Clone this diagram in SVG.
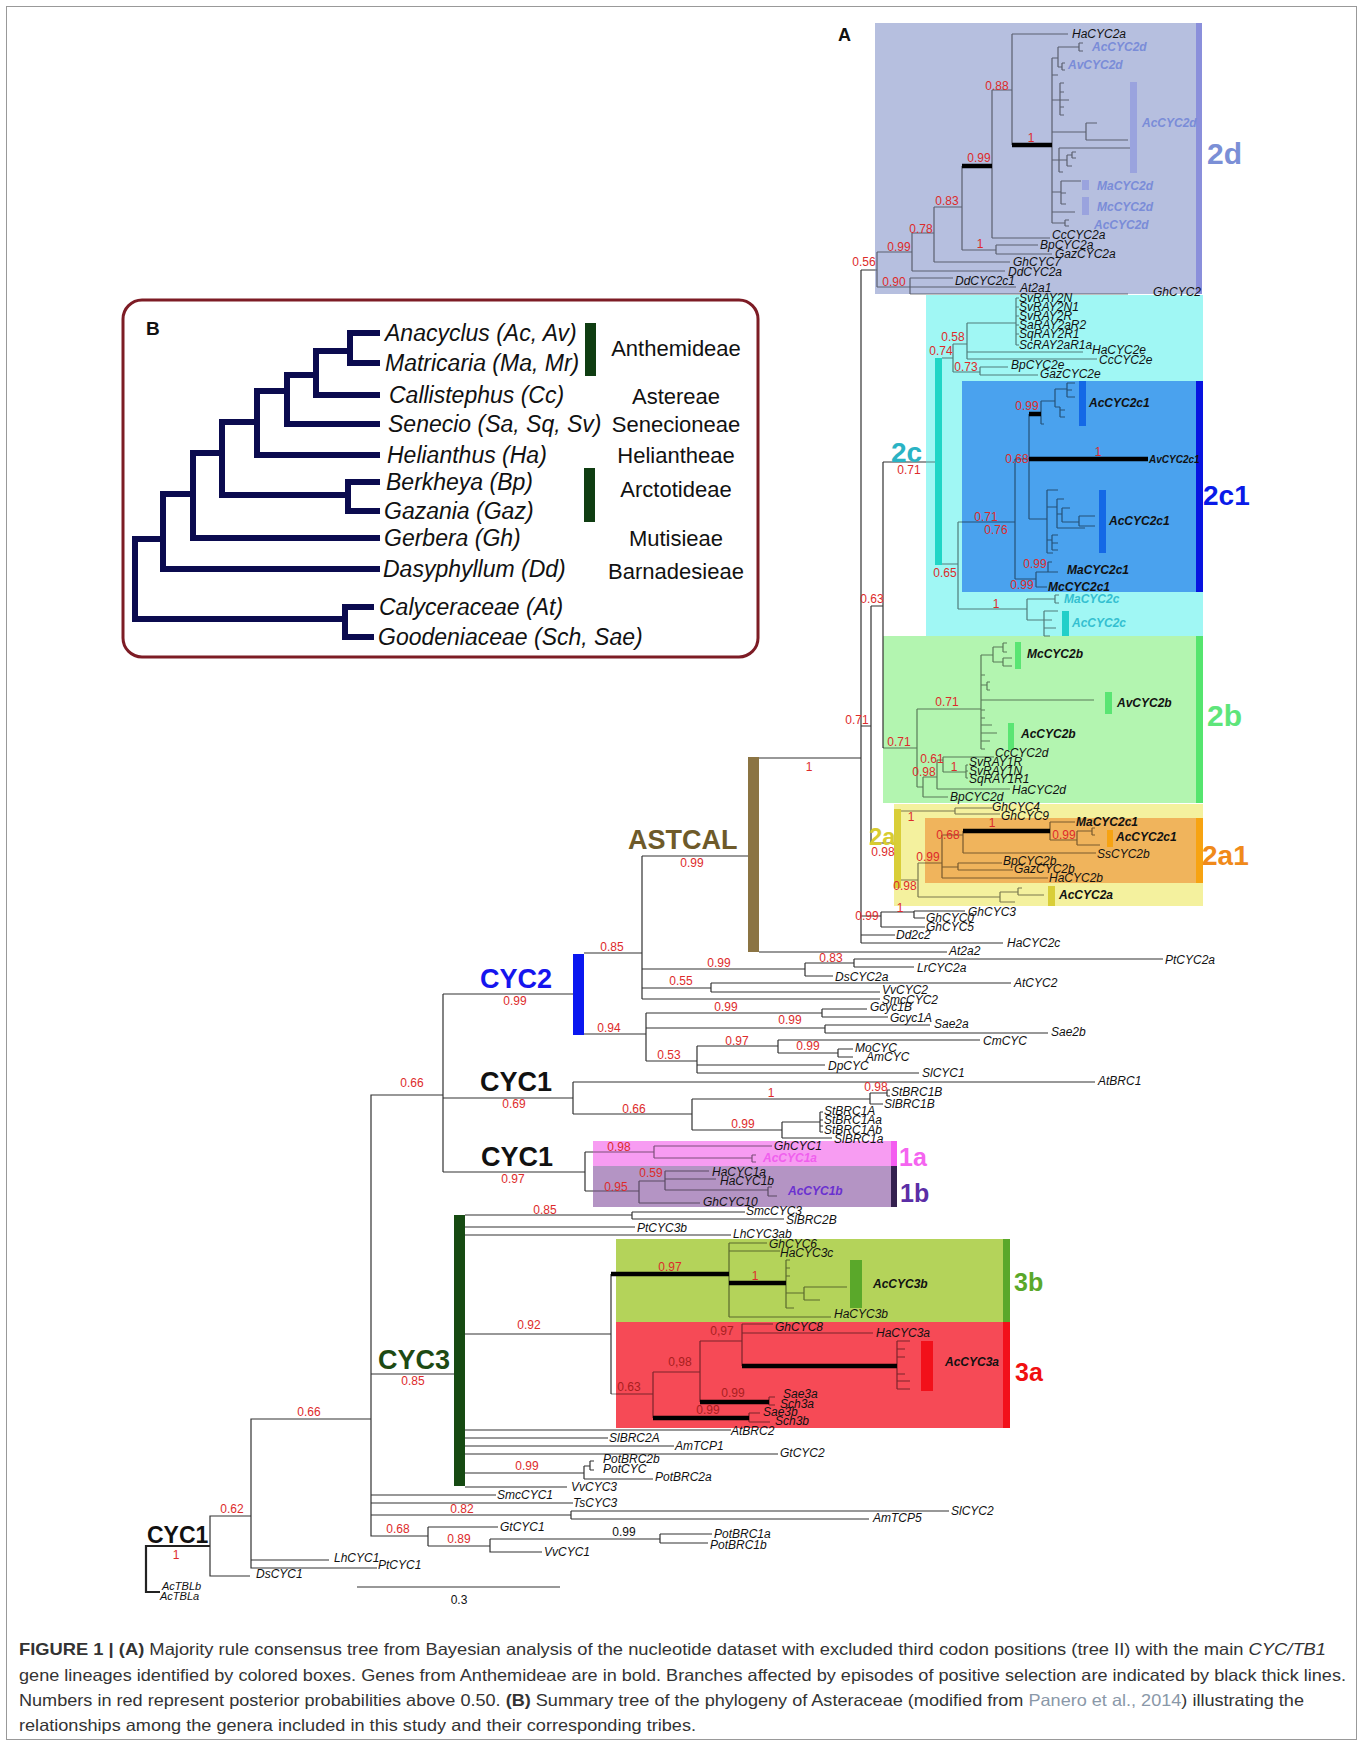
<svg xmlns="http://www.w3.org/2000/svg" width="1363" height="1746" viewBox="0 0 1363 1746">
<style>
.ln{fill:none;stroke:#333;stroke-width:1.2}
.ln2{fill:none;stroke:#222;stroke-width:2.2}
.lb{fill:none;stroke:#000;stroke-opacity:.5;stroke-width:1.2}
.tk{fill:none;stroke:#000;stroke-width:4.5}
.t{font-family:"Liberation Sans",Arial,sans-serif;font-style:italic;font-size:12px;fill:#111;dominant-baseline:central}
.tb{font-weight:bold}
.c2d{fill:#7a8cd8}
.ccy{fill:#34bfd0}
.cpk{fill:#f060ee}
.cpu{fill:#6a30d0}
.sm{font-size:10px}
.s11{font-size:11px}
.n{font-family:"Liberation Sans",Arial,sans-serif;font-size:12px;fill:#dd2b2b;text-anchor:middle;dominant-baseline:central}
.nd{fill:#a82020}
.nk{fill:#111}
.big{font-family:"Liberation Sans",Arial,sans-serif;font-weight:bold;dominant-baseline:central}
.bt{font-family:"Liberation Sans",Arial,sans-serif;font-style:italic;font-size:23px;fill:#111;dominant-baseline:central}
.tr{font-family:"Liberation Sans",Arial,sans-serif;font-size:22px;fill:#111;text-anchor:middle;dominant-baseline:central}
.cap{font-family:"Liberation Sans",Arial,sans-serif;font-size:16.5px;fill:#333}
</style>
<rect x="6.5" y="6.5" width="1350" height="1733" fill="#fff" stroke="#999" stroke-width="1"/>

<g id="boxes">
<rect x="875" y="23" width="327" height="271" fill="#b6bfdf"/>
<rect x="926" y="295" width="277" height="341" fill="#a0f7f4"/>
<rect x="962" y="381" width="241" height="211" fill="#4aa2ee"/>
<rect x="883" y="636" width="320" height="167" fill="#b3f5b0"/>
<rect x="894" y="804" width="309" height="102" fill="#f4f19e"/>
<rect x="925" y="818" width="278" height="65" fill="#f0b45c"/>
<rect x="593" y="1141" width="304" height="25" fill="#f79cf2"/>
<rect x="593" y="1166" width="304" height="41" fill="#b494c4"/>
<rect x="616" y="1239" width="394" height="83" fill="#b4d35a"/>
<rect x="616" y="1322" width="394" height="106" fill="#f64a56"/>
</g>

<g id="connectors">
<path class="ln2" d="M160,1592 H146 V1546 H210"/>
<path class="ln" d="M251,1516 H210 V1576 H250 M371,1419 H251 V1568 H377 M251,1560 H329 M443,1095 H371 V1536 H428 M371,1374 H454 M371,1495 H496 M371,1503 H573 M371,1515 H571 M571,1511 V1519 M571,1511 H949 M571,1519 H869 M428,1527 V1546 M428,1527 H498 M428,1546 H490 M490,1539 V1552 H542 M490,1539 H660 M660,1534 V1543 M660,1534 H712 M660,1543 H708
M465,1215 H632 M632,1212 V1219 M632,1212 H745 M632,1219 H784 M465,1227 H635 M465,1235 H731 M465,1334 H611 M611,1274 V1394 M465,1430 H731 M465,1438 H608 M465,1446 H674 M465,1454 H778 M465,1473 H584 M584,1466 V1479 M584,1466 H590 M590,1461 V1470 M590,1461 H594 M590,1470 H594 M584,1479 H653 M465,1487 H567
M443,994 V1172 M443,994 H573 M443,1098 H573 M443,1172 H585 M585,1152 V1191 M585,1152 H593 M585,1191 H593 M573,1082 V1114 M573,1082 H1095 M573,1114 H692 M692,1099 V1130 M692,1099 H870 M692,1130 H782 M870,1093 V1104 M870,1093 H887 M870,1104 H883 M887,1090 V1096 M887,1090 H890 M887,1096 H890 M782,1122 V1138 M782,1122 H820 M782,1138 H832 M820,1112 V1132 M820,1112 H823 M820,1120 H823 M820,1126 H823 M820,1132 H823
M584,953 H642 M642,856 V999 M642,856 H748 M642,969 H805 M805,963 V976 M805,963 H854 M854,959 V967 M854,959 H1163 M854,967 H914 M805,976 H833 M642,988 H711 M711,983 V992 M711,983 H1011 M711,992 H880 M642,999 H880 M584,1034 H646 M646,1013 V1061 M646,1013 H822 M822,1009 V1017 M822,1009 H867 M822,1017 H888 M646,1028 H825 M825,1025 V1033 M825,1025 H930 M825,1033 H1048 M646,1061 H697 M697,1046 V1073 M697,1046 H778 M778,1040 V1053 M778,1040 H980 M778,1053 H838 M838,1049 V1057 M838,1049 H853 M838,1057 H853 M697,1065 H825 M697,1073 H919
M759,758 H861 M759,952 H947 M861,270 V943 M861,943 H1003 M861,935 H895 M861,916 H881 M881,912 V927 M881,912 H914 M914,911 V918 M914,911 H965 M914,918 H925 M881,927 H925 M861,270 H875 M861,726 H871 M871,606 V843 M871,606 H883 M883,462 V748 M883,462 H926 M871,843 H894"/>
<path class="lb" d="M875,270 H877 M877,252 V287 M877,252 H912 M912,233 V271 M912,233 H934 M934,207 V262 M934,207 H962 M962,166 V250 M962,250 H996 M996,245 V254 M996,245 H1038 M996,254 H1052 M934,262 H1010 M912,271 H1005 M877,287 H910 M910,278 V294 M910,278 H953 M910,287 H1016 M910,294 H1128 M992,90 V238 M992,90 H1012 M992,238 H1050 M1012,34 V145 M1012,34 H1068 M1052,58 V223 M1052,58 H1058 M1058,47 V67 M1058,47 H1079 M1079,43 V51 M1079,43 H1083 M1079,51 H1083 M1058,67 H1062 M1062,63 V70 M1062,63 H1065 M1062,70 H1065 M1052,75 H1058 M1052,100 H1060 M1060,83 V115 M1060,83 H1064 M1060,92 H1064 M1060,100 H1069 M1060,107 H1064 M1060,115 H1064 M1052,132 H1086 M1086,123 V140 M1086,123 H1097 M1086,140 H1128 M1052,160 H1059 M1059,148 V172 M1059,148 H1133 M1059,160 H1067 M1067,155 V166 M1067,155 H1072 M1072,152 V158 M1072,152 H1076 M1072,158 H1076 M1067,166 H1072 M1059,172 H1063 M1052,192 H1061 M1061,181 V204 M1061,181 H1081 M1061,193 H1066 M1061,204 H1066 M1052,212 H1075 M1052,223 H1065 M1065,220 V226 M1065,220 H1069 M1065,226 H1069
M926,462 H935 M942,358 H953 M953,344 V372 M953,344 H967 M967,323 V359 M967,323 H1016 M1016,298 V345 M1016,298 H1019 M1016,307 H1019 M1016,316 H1019 M1016,325 H1019 M1016,334 H1019 M1016,345 H1019 M967,352 H1083 M967,359 H1097 M953,372 H980 M980,367 V375 M980,367 H1008 M980,375 H1038 M942,564 H958 M958,522 V609 M958,522 H1015 M958,609 H1027 M1027,599 V620 M1027,599 H1055 M1055,595 V603 M1055,595 H1059 M1055,603 H1059 M1027,620 H1044 M1044,611 V636 M1044,611 H1058 M1044,620 H1052 M1044,628 H1056 M1044,636 H1050
M1015,459 V579 M1015,459 H1029 M1029,414 V519 M1041,401 V424 M1041,401 H1055 M1055,389 V407 M1055,389 H1067 M1067,383 V397 M1067,383 H1075 M1067,390 H1072 M1067,397 H1075 M1055,407 H1060 M1060,407 V417 M1060,410 H1065 M1060,417 H1065 M1041,424 H1044 M1029,519 H1047 M1047,490 V553 M1047,490 H1058 M1047,507 H1057 M1057,499 V528 M1057,499 H1064 M1057,514 H1062 M1062,508 V522 M1062,508 H1070 M1062,522 H1079 M1079,516 V526 M1079,516 H1095 M1079,526 H1095 M1057,528 H1085 M1047,540 H1052 M1052,535 V550 M1052,535 H1058 M1052,543 H1058 M1052,550 H1058 M1047,553 H1053 M1015,579 H1036 M1036,572 V587 M1036,572 H1048 M1048,562 V572 M1048,562 H1052 M1048,572 H1058 M1036,587 H1047
M883,748 H917 M917,709 V787 M917,709 H981 M981,655 V749 M981,655 H993 M993,647 V662 M993,647 H1003 M1003,643 V652 M1003,643 H1007 M1003,652 H1007 M993,662 H1003 M1003,658 V666 M1003,658 H1012 M1003,666 H1012 M981,675 H985 M981,685 H987 M987,682 V690 M987,682 H990 M987,690 H990 M981,700 H1094 M981,710 H985 M981,718 H985 M981,725 H992 M981,733 H997 M981,741 H990 M981,749 H985 M917,787 H923 M923,777 V797 M923,797 H948 M923,777 H937 M937,760 V789 M937,789 H1010 M937,760 H943 M943,757 V772 M943,757 H994 M943,772 H966 M966,765 V778 M966,765 H968 M966,771 H968 M966,778 H968
M901,811 H955 M955,808 V814 M955,808 H992 M955,814 H1000 M901,880 H918 M918,863 V897 M918,863 H942 M942,835 V878 M942,835 H963 M963,831 V853 M963,853 H1096 M1050,822 V840 M1050,822 H1075 M1050,840 H1077 M1077,831 V845 M1077,831 H1092 M1092,828 V835 M1092,828 H1095 M1092,835 H1095 M1077,845 H1100 M942,867 H958 M958,863 V870 M958,863 H1002 M958,870 H1013 M942,878 H1048 M918,897 H1000 M1000,892 V902 M1000,892 H1018 M1018,888 V895 M1018,888 H1022 M1018,895 H1044 M1000,902 H1015
M729,1243 V1317 M729,1243 H767 M729,1251 H780 M786,1260 V1308 M786,1260 H790 M786,1268 H790 M786,1276 H790 M786,1293 H804 M804,1287 V1300 M804,1287 H847 M804,1300 H820 M786,1308 H794 M729,1317 H831
M611,1394 H653 M653,1372 V1418 M653,1372 H700 M700,1341 V1402 M700,1341 H742 M742,1324 V1366 M742,1324 H773 M742,1333 H873 M897,1341 V1389 M897,1341 H910 M897,1349 H905 M897,1357 H905 M897,1374 H905 M897,1381 H910 M897,1389 H910 M769,1397 V1405 M769,1397 H775 M769,1405 H775 M749,1413 V1422 M749,1413 H760 M749,1422 H770
M593,1152 H654 M654,1146 V1158 M654,1146 H772 M654,1158 H752 M752,1155 V1162 M752,1155 H756 M752,1162 H756 M593,1191 H639 M639,1181 V1203 M639,1181 H665 M665,1171 V1190 M665,1171 H709 M665,1179 H716 M665,1190 H768 M768,1187 V1196 M768,1187 H772 M768,1196 H777 M639,1203 H700"/>
<path class="tk" d="M962,166 H992 M1012,145 H1052 M1029,414 H1041 M1029,459 H1148 M963,831 H1050 M611,1274 H729 M729,1283 H786 M742,1366 H897 M700,1402 H769 M653,1418 H749"/>
<path class="ln" d="M357,1587 H560"/>
</g>

<g id="bars">
<rect x="1196" y="23" width="6" height="271" fill="#8a8fdb"/>
<rect x="1130" y="82" width="7" height="91" fill="#9aa3de"/>
<rect x="1082" y="180" width="7" height="10" fill="#9aa3de"/>
<rect x="1082" y="197" width="7" height="18" fill="#9aa3de"/>
<rect x="935" y="358" width="7" height="207" fill="#20d5c6"/>
<rect x="1062" y="611" width="7" height="25" fill="#22cfc9"/>
<rect x="1196" y="381" width="7" height="211" fill="#0814e0"/>
<rect x="1079" y="381" width="7" height="45" fill="#1468e6"/>
<rect x="1099" y="490" width="7" height="63" fill="#1468e6"/>
<rect x="1196" y="636" width="7" height="167" fill="#55e56e"/>
<rect x="1015" y="642" width="6" height="27" fill="#5ae573"/>
<rect x="1105" y="692" width="7" height="22" fill="#5ae573"/>
<rect x="1008" y="723" width="6" height="27" fill="#5ae573"/>
<rect x="894" y="809" width="7" height="79" fill="#d9ce38"/>
<rect x="1048" y="886" width="7" height="20" fill="#d9ce38"/>
<rect x="1196" y="818" width="7" height="65" fill="#f7a312"/>
<rect x="1107" y="830" width="6" height="17" fill="#f7a312"/>
<rect x="748" y="757" width="11" height="195" fill="#8b7443"/>
<rect x="573" y="954" width="11" height="81" fill="#0a17f0"/>
<rect x="891" y="1141" width="6" height="25" fill="#f45cf0"/>
<rect x="891" y="1166" width="6" height="41" fill="#34204f"/>
<rect x="454" y="1215" width="11" height="271" fill="#164a12"/>
<rect x="1003" y="1239" width="7" height="83" fill="#5aa82a"/>
<rect x="850" y="1260" width="12" height="48" fill="#5aa82a"/>
<rect x="1003" y="1322" width="7" height="106" fill="#f2101a"/>
<rect x="921" y="1341" width="12" height="50" fill="#f2101a"/>
</g>

<g id="clade-labels">
<text class="big" x="838" y="35" font-size="18" fill="#111">A</text>
<text class="big" x="1207" y="153" font-size="30" fill="#7b8fd6">2d</text>
<text class="big" x="891" y="452" font-size="28" fill="#2ab3c4">2c</text>
<text class="big" x="1203" y="495" font-size="28" fill="#0a1ae8">2c1</text>
<text class="big" x="1207" y="715" font-size="30" fill="#5ee57a">2b</text>
<text class="big" x="869" y="836" font-size="24" fill="#d8cc30">2a</text>
<text class="big" x="1202" y="855" font-size="28" fill="#f08a1a">2a1</text>
<text class="big" x="899" y="1157" font-size="25" fill="#f564f0">1a</text>
<text class="big" x="900" y="1193" font-size="25" fill="#5b2ea6">1b</text>
<text class="big" x="1014" y="1282" font-size="25" fill="#5aa82a">3b</text>
<text class="big" x="1015" y="1372" font-size="25" fill="#f01010">3a</text>
<text class="big" x="628" y="840" font-size="27" fill="#6e5a2a">ASTCAL</text>
<text class="big" x="480" y="979" font-size="27" fill="#1515ee">CYC2</text>
<text class="big" x="480" y="1082" font-size="27" fill="#111">CYC1</text>
<text class="big" x="481" y="1157" font-size="27" fill="#111">CYC1</text>
<text class="big" x="378" y="1360" font-size="27" fill="#1d4a13">CYC3</text>
<text class="big" x="147" y="1535" font-size="23" fill="#111">CYC1</text>
</g>

<g id="clade-2d">
<text class="t" x="1072" y="34">HaCYC2a</text>
<text class="t tb c2d" x="1092" y="47">AcCYC2d</text>
<text class="t tb c2d" x="1068" y="65">AvCYC2d</text>
<text class="t tb c2d" x="1142" y="123">AcCYC2d</text>
<text class="t tb c2d" x="1097" y="186">MaCYC2d</text>
<text class="t tb c2d" x="1097" y="207">McCYC2d</text>
<text class="t tb c2d" x="1094" y="225">AcCYC2d</text>
<text class="t" x="1052" y="235">CcCYC2a</text>
<text class="t" x="1040" y="245">BpCYC2a</text>
<text class="t" x="1055" y="254">GazCYC2a</text>
<text class="t" x="1013" y="262">GhCYC7</text>
<text class="t" x="1008" y="272">DdCYC2a</text>
<text class="t" x="955" y="281">DdCYC2c1</text>
<text class="t" x="1020" y="288">At2a1</text>
<text class="t" x="1153" y="292">GhCYC2</text>
<text class="n" x="997" y="86">0.88</text>
<text class="n" x="1031" y="138">1</text>
<text class="n" x="979" y="158">0.99</text>
<text class="n" x="947" y="201">0.83</text>
<text class="n" x="921" y="229">0.78</text>
<text class="n" x="980" y="244">1</text>
<text class="n" x="899" y="247">0.99</text>
<text class="n" x="864" y="262">0.56</text>
<text class="n" x="894" y="282">0.90</text>
</g>

<g id="clade-2c">
<text class="t" x="1019" y="298">SvRAY2N</text>
<text class="t" x="1019" y="307">SvRAY2N1</text>
<text class="t" x="1019" y="316">SvRAY2R</text>
<text class="t" x="1019" y="325">SaRAY2aR2</text>
<text class="t" x="1019" y="334">SqRAY2R1</text>
<text class="t" x="1019" y="345">ScRAY2aR1a</text>
<text class="t" x="1092" y="350">HaCYC2e</text>
<text class="t" x="1099" y="360">CcCYC2e</text>
<text class="t" x="1011" y="365">BpCYC2e</text>
<text class="t" x="1040" y="374">GazCYC2e</text>
<text class="n" x="953" y="337">0.58</text>
<text class="n" x="941" y="351">0.74</text>
<text class="n" x="966" y="367">0.73</text>
<text class="n" x="909" y="470">0.71</text>
<text class="n" x="945" y="573">0.65</text>
<text class="n" x="996" y="604">1</text>
<text class="t tb ccy" x="1064" y="599">MaCYC2c</text>
<text class="t tb ccy" x="1072" y="623">AcCYC2c</text>
</g>

<g id="clade-2c1">
<text class="n" x="1027" y="406">0.99</text>
<text class="t tb" x="1089" y="403">AcCYC2c1</text>
<text class="n" x="1017" y="459">0.68</text>
<text class="n" x="1098" y="452">1</text>
<text class="t tb sm" x="1149" y="459">AvCYC2c1</text>
<text class="n" x="986" y="517">0.71</text>
<text class="n" x="996" y="530">0.76</text>
<text class="t tb" x="1109" y="521">AcCYC2c1</text>
<text class="n" x="1035" y="564">0.99</text>
<text class="t tb" x="1067" y="570">MaCYC2c1</text>
<text class="n" x="1022" y="585">0.99</text>
<text class="t tb" x="1048" y="587">McCYC2c1</text>
</g>

<g id="clade-2b">
<text class="t tb" x="1027" y="654">McCYC2b</text>
<text class="n" x="947" y="702">0.71</text>
<text class="t tb" x="1117" y="703">AvCYC2b</text>
<text class="t tb" x="1021" y="734">AcCYC2b</text>
<text class="n" x="899" y="742">0.71</text>
<text class="t" x="995" y="753">CcCYC2d</text>
<text class="n" x="932" y="759">0.61</text>
<text class="t" x="969" y="762">SvRAY1R</text>
<text class="n" x="954" y="767">1</text>
<text class="t" x="969" y="771">SvRAY1N</text>
<text class="n" x="924" y="772">0.98</text>
<text class="t" x="969" y="779">SqRAY1R1</text>
<text class="t" x="1012" y="790">HaCYC2d</text>
<text class="t" x="950" y="797">BpCYC2d</text>
</g>

<g id="clade-2a">
<text class="t" x="992" y="807">GhCYC4</text>
<text class="t" x="1001" y="816">GhCYC9</text>
<text class="n" x="911" y="817">1</text>
<text class="n" x="992" y="823">1</text>
<text class="t tb" x="1076" y="822">MaCYC2c1</text>
<text class="n" x="948" y="835">0.68</text>
<text class="n" x="1064" y="835">0.99</text>
<text class="t tb" x="1116" y="837">AcCYC2c1</text>
<text class="n" x="883" y="852">0.98</text>
<text class="t" x="1097" y="854">SsCYC2b</text>
<text class="n" x="928" y="857">0.99</text>
<text class="t" x="1003" y="861">BpCYC2b</text>
<text class="t" x="1014" y="869">GazCYC2b</text>
<text class="t" x="1049" y="878">HaCYC2b</text>
<text class="n" x="905" y="886">0.98</text>
<text class="t tb" x="1059" y="895">AcCYC2a</text>
</g>

<g id="astcal-rest">
<text class="n" x="857" y="720">0.71</text>
<text class="n" x="872" y="599">0.63</text>
<text class="n" x="809" y="767">1</text>
<text class="n" x="692" y="863">0.99</text>
<text class="n" x="900" y="908">1</text>
<text class="t" x="968" y="912">GhCYC3</text>
<text class="n" x="867" y="916">0.99</text>
<text class="t" x="926" y="918">GhCYC0</text>
<text class="t" x="926" y="927">GhCYC5</text>
<text class="t" x="896" y="935">Dd2c2</text>
<text class="t" x="1007" y="943">HaCYC2c</text>
<text class="t" x="949" y="951">At2a2</text>
</g>

<g id="clade-cyc2">
<text class="n" x="612" y="947">0.85</text>
<text class="n" x="831" y="958">0.83</text>
<text class="t" x="1165" y="960">PtCYC2a</text>
<text class="n" x="719" y="963">0.99</text>
<text class="t" x="917" y="968">LrCYC2a</text>
<text class="t" x="835" y="977">DsCYC2a</text>
<text class="n" x="681" y="981">0.55</text>
<text class="t" x="1014" y="983">AtCYC2</text>
<text class="t" x="882" y="990">VvCYC2</text>
<text class="t" x="882" y="1000">SmcCYC2</text>
<text class="n" x="515" y="1001">0.99</text>
<text class="n" x="726" y="1007">0.99</text>
<text class="t" x="870" y="1007">Gcyc1B</text>
<text class="t" x="890" y="1018">Gcyc1A</text>
<text class="n" x="790" y="1020">0.99</text>
<text class="t" x="934" y="1024">Sae2a</text>
<text class="n" x="609" y="1028">0.94</text>
<text class="t" x="1051" y="1032">Sae2b</text>
<text class="n" x="737" y="1041">0.97</text>
<text class="t" x="983" y="1041">CmCYC</text>
<text class="n" x="808" y="1046">0.99</text>
<text class="t" x="855" y="1048">MoCYC</text>
<text class="n" x="669" y="1055">0.53</text>
<text class="t" x="866" y="1057">AmCYC</text>
<text class="t" x="828" y="1066">DpCYC</text>
<text class="t" x="922" y="1073">SlCYC1</text>
</g>

<g id="clade-cyc1">
<text class="n" x="412" y="1083">0.66</text>
<text class="t" x="1098" y="1081">AtBRC1</text>
<text class="n" x="876" y="1087">0.98</text>
<text class="t" x="891" y="1092">StBRC1B</text>
<text class="n" x="771" y="1093">1</text>
<text class="n" x="514" y="1104">0.69</text>
<text class="t" x="884" y="1104">SlBRC1B</text>
<text class="n" x="634" y="1109">0.66</text>
<text class="t" x="824" y="1111">StBRC1A</text>
<text class="t" x="824" y="1120">StBRC1Aa</text>
<text class="n" x="743" y="1124">0.99</text>
<text class="t" x="824" y="1130">StBRC1Ab</text>
<text class="t" x="834" y="1139">SlBRC1a</text>
<text class="n" x="619" y="1147">0.98</text>
<text class="t" x="774" y="1146">GhCYC1</text>
<text class="t tb cpk" x="763" y="1158">AcCYC1a</text>
<text class="t" x="712" y="1172">HaCYC1a</text>
<text class="n" x="651" y="1173">0.59</text>
<text class="n" x="513" y="1179">0.97</text>
<text class="t" x="720" y="1181">HaCYC1b</text>
<text class="n" x="616" y="1187">0.95</text>
<text class="t tb cpu" x="788" y="1191">AcCYC1b</text>
<text class="t" x="703" y="1202">GhCYC10</text>
</g>

<g id="clade-cyc3">
<text class="n" x="545" y="1210">0.85</text>
<text class="t" x="746" y="1211">SmcCYC3</text>
<text class="t" x="786" y="1220">SlBRC2B</text>
<text class="t" x="637" y="1228">PtCYC3b</text>
<text class="t" x="733" y="1234">LhCYC3ab</text>
<text class="t" x="769" y="1244">GhCYC6</text>
<text class="t" x="780" y="1253">HaCYC3c</text>
<text class="n" x="670" y="1267">0.97</text>
<text class="n" x="755" y="1276">1</text>
<text class="t tb" x="873" y="1284">AcCYC3b</text>
<text class="t" x="834" y="1314">HaCYC3b</text>
<text class="n" x="529" y="1325">0.92</text>
<text class="t" x="775" y="1327">GhCYC8</text>
<text class="n nd" x="722" y="1331">0,97</text>
<text class="t" x="876" y="1333">HaCYC3a</text>
<text class="n nd" x="680" y="1362">0,98</text>
<text class="t tb" x="945" y="1362">AcCYC3a</text>
<text class="n nd" x="629" y="1387">0.63</text>
<text class="n nd" x="733" y="1393">0.99</text>
<text class="t" x="783" y="1394">Sae3a</text>
<text class="t" x="780" y="1404">Sch3a</text>
<text class="n nd" x="708" y="1410">0.99</text>
<text class="t" x="763" y="1412">Sae3b</text>
<text class="t" x="775" y="1421">Sch3b</text>
<text class="t" x="731" y="1431">AtBRC2</text>
<text class="t" x="609" y="1438">SlBRC2A</text>
<text class="t" x="675" y="1446">AmTCP1</text>
<text class="t" x="780" y="1453">GtCYC2</text>
<text class="t" x="603" y="1459">PotBRC2b</text>
<text class="n" x="527" y="1466">0.99</text>
<text class="t" x="603" y="1469">PotCYC</text>
<text class="t" x="655" y="1477">PotBRC2a</text>
<text class="t" x="571" y="1487">VvCYC3</text>
<text class="n" x="413" y="1381">0.85</text>
</g>

<g id="basal">
<text class="n" x="309" y="1412">0.66</text>
<text class="t" x="497" y="1495">SmcCYC1</text>
<text class="t" x="573" y="1503">TsCYC3</text>
<text class="n" x="462" y="1509">0.82</text>
<text class="t" x="951" y="1511">SlCYC2</text>
<text class="t" x="873" y="1518">AmTCP5</text>
<text class="n" x="232" y="1509">0.62</text>
<text class="n" x="398" y="1529">0.68</text>
<text class="t" x="500" y="1527">GtCYC1</text>
<text class="n nk" x="624" y="1532">0.99</text>
<text class="t" x="714" y="1534">PotBRC1a</text>
<text class="n" x="459" y="1539">0.89</text>
<text class="t" x="710" y="1545">PotBRC1b</text>
<text class="t" x="544" y="1552">VvCYC1</text>
<text class="n" x="176" y="1555">1</text>
<text class="t" x="334" y="1558">LhCYC1</text>
<text class="t" x="378" y="1565">PtCYC1</text>
<text class="t" x="256" y="1574">DsCYC1</text>
<text class="t s11" x="162" y="1586">AcTBLb</text>
<text class="t s11" x="160" y="1596">AcTBLa</text>
<text class="n nk s11" x="459" y="1600">0.3</text>
</g>

<g id="panel-b">
<rect x="123" y="300" width="635" height="357" rx="19" fill="none" stroke="#7d1c25" stroke-width="3"/>
<text class="big" x="146" y="328" font-size="19" fill="#111">B</text>
<path fill="none" stroke="#0b0b4f" stroke-width="6" d="M380,333 H350 V363 H380 M350,351 H316 V395 H380 M316,375 H287 V424 H380 M287,391 H257 V455 H380 M257,422 H222 V495 H348 M380,482 H348 V511 H380 M222,453 H193 V538 H380 M193,494 H163 V569 H380 M163,539 H135 V619 H345 M374,607 H345 V637 H374"/>
<rect x="585" y="323" width="11" height="53" fill="#0f3d12"/>
<rect x="584" y="468" width="11" height="54" fill="#0f3d12"/>
<text class="bt" x="385" y="333">Anacyclus (Ac, Av)</text>
<text class="bt" x="385" y="363">Matricaria (Ma, Mr)</text>
<text class="bt" x="389" y="395">Callistephus (Cc)</text>
<text class="bt" x="388" y="424">Senecio (Sa, Sq, Sv)</text>
<text class="bt" x="387" y="455">Helianthus (Ha)</text>
<text class="bt" x="386" y="482">Berkheya (Bp)</text>
<text class="bt" x="384" y="511">Gazania (Gaz)</text>
<text class="bt" x="384" y="538">Gerbera (Gh)</text>
<text class="bt" x="383" y="569">Dasyphyllum (Dd)</text>
<text class="bt" x="379" y="607">Calyceraceae (At)</text>
<text class="bt" x="378" y="637">Goodeniaceae (Sch, Sae)</text>
<text class="tr" x="676" y="348">Anthemideae</text>
<text class="tr" x="676" y="396">Astereae</text>
<text class="tr" x="676" y="424">Senecioneae</text>
<text class="tr" x="676" y="455">Heliantheae</text>
<text class="tr" x="676" y="489">Arctotideae</text>
<text class="tr" x="676" y="538">Mutisieae</text>
<text class="tr" x="676" y="571">Barnadesieae</text>
</g>

<g id="caption">
<text class="cap" x="19" y="1655" textLength="1307" lengthAdjust="spacingAndGlyphs"><tspan font-weight="bold">FIGURE 1 | (A)</tspan> Majority rule consensus tree from Bayesian analysis of the nucleotide dataset with excluded third codon positions (tree II) with the main <tspan font-style="italic">CYC/TB1</tspan></text>
<text class="cap" x="19" y="1681" textLength="1327" lengthAdjust="spacingAndGlyphs">gene lineages identified by colored boxes. Genes from Anthemideae are in bold. Branches affected by episodes of positive selection are indicated by black thick lines.</text>
<text class="cap" x="19" y="1706" textLength="1285" lengthAdjust="spacingAndGlyphs">Numbers in red represent posterior probabilities above 0.50. <tspan font-weight="bold">(B)</tspan> Summary tree of the phylogeny of Asteraceae (modified from <tspan fill="#8a98a8">Panero et al., 2014</tspan>) illustrating the</text>
<text class="cap" x="19" y="1731" textLength="677" lengthAdjust="spacingAndGlyphs">relationships among the genera included in this study and their corresponding tribes.</text>
</g>
</svg>
